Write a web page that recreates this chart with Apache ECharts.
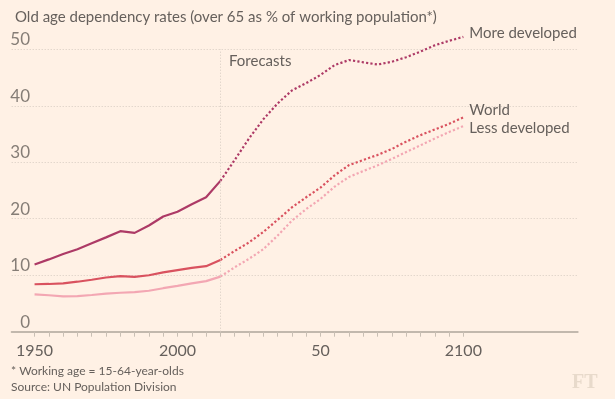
<!DOCTYPE html>
<html>
<head>
<meta charset="utf-8">
<script src="https://cdn.jsdelivr.net/npm/echarts@6/dist/echarts.min.js"></script>
<style>
html,body{margin:0;padding:0;background:#fff1e5;}
#c{width:615px;height:399px;}
</style>
</head>
<body>
<div id="c"></div>
<script>
// Data
const histYears = [1950,1955,1960,1965,1970,1975,1980,1985,1990,1995,2000,2005,2010,2015];
const foreYears = [2015,2020,2025,2030,2035,2040,2045,2050,2055,2060,2065,2070,2075,2080,2085,2090,2095,2100];

const moreHist = [11.9,12.8,13.75,14.6,15.65,16.7,17.8,17.5,18.8,20.4,21.25,22.55,23.8,26.7];
const moreFore = [26.7,30.4,34.2,37.6,40.4,42.7,44.0,45.45,47.2,48.1,47.7,47.3,47.8,48.6,49.6,50.7,51.5,52.2];

const worldHist = [8.4,8.45,8.55,8.85,9.2,9.6,9.85,9.7,10.0,10.5,10.9,11.3,11.6,12.7];
const worldFore = [12.7,14.3,15.8,17.65,19.8,22.0,23.8,25.5,27.7,29.5,30.4,31.3,32.35,33.65,34.8,35.8,36.8,37.95];

const lessHist = [6.6,6.45,6.25,6.3,6.5,6.75,6.9,7.0,7.25,7.7,8.1,8.55,8.95,9.75];
const lessFore = [9.75,11.4,12.9,14.6,17.0,19.65,21.7,23.5,25.7,27.4,28.45,29.45,30.6,31.8,33.0,34.2,35.35,36.4];

const xLabelValues = [1950,2000,2050,2100];
const xLabelTexts = {1950:'1950',2000:'2000',2050:'50',2100:'2100'};
const yTicks = [0,10,20,30,40,50];
const forecastYear = 2015;

const seriesNames = ['More developed','World','Less developed'];

const tickValues = [];
for (let y = 1950; y <= 2100; y += 5) tickValues.push(y);

const zip = (xs, ys) => xs.map((x, i) => [x, ys[i]]);

const FONT = 'Lato';
const colors = ['#ad3a66','#d9525f','#f3a7b3'];
const labelOffsets = [[0,-4],[0,-7],[0,2]];

function mk(name, hist, fore, idx) {
  return [
    {
      type:'line', name:name, data:zip(histYears, hist), showSymbol:false, symbol:'none', clip:false,
      lineStyle:{color:colors[idx], width:2.2}, animation:false
    },
    {
      type:'line', name:name, data:zip(foreYears, fore), showSymbol:false, symbol:'none', clip:false,
      lineStyle:{color:colors[idx], width:2.2, type:'dotted'}, animation:false,
      endLabel:{show:true, formatter:name, color:'#66605c', fontFamily:FONT, fontSize:15,
        distance:6, offset:labelOffsets[idx]}
    }
  ];
}

const chart = echarts.init(document.getElementById('c'), null, {renderer:'canvas'});
const series = [].concat(
  mk(seriesNames[2], lessHist, lessFore, 2),
  mk(seriesNames[1], worldHist, worldFore, 1),
  mk(seriesNames[0], moreHist, moreFore, 0)
);
series[0].markLine = {
  silent:true, symbol:'none', animation:false,
  label:{show:false},
  lineStyle:{color:'#d6cbc0', type:[1,2], width:1},
  data:[{xAxis:forecastYear}]
};

chart.setOption({
  backgroundColor:'#fff1e5',
  animation:false,
  grid:{left:11.7, right:37.3, top:49.3, bottom:67.3, containLabel:false},
  title:{
    text:'Old age dependency rates (over 65 as % of working population*)',
    left:10, top:5,
    textStyle:{color:'#66605c', fontFamily:FONT, fontSize:15, fontWeight:'normal'}
  },
  xAxis:{
    type:'value', min:1942, max:2140,
    axisLine:{show:true, lineStyle:{color:'#c2b8ad', width:2}},
    axisTick:{show:true, customValues:tickValues, length:5, lineStyle:{color:'#c9bfb4', width:1}},
    axisLabel:{customValues:xLabelValues, formatter:v=>xLabelTexts[v], color:'#66605c',
      fontFamily:FONT, fontSize:16, margin:11},
    splitLine:{show:false}
  },
  yAxis:{
    type:'value', min:0, max:50, interval:10,
    axisLine:{show:false}, axisTick:{show:false},
    axisLabel:{color:'#857d76', fontFamily:FONT, fontSize:17, margin:-18.3,
      verticalAlign:'bottom', padding:[0,0,1,0]},
    splitLine:{show:true, lineStyle:{color:'#d6cbc0', type:[1,2], width:1}}
  },
  graphic:[
    {type:'text', left:229, top:54, style:{text:'Forecasts', fill:'#66605c', font:'15px '+FONT}},
    {type:'text', left:11, top:365, style:{text:'* Working age = 15-64-year-olds', fill:'#66605c', font:'12px '+FONT}},
    {type:'text', left:11, top:381, style:{text:'Source: UN Population Division', fill:'#66605c', font:'12px '+FONT}},
    {type:'text', left:572, top:373, style:{text:'FT', fill:'#e8dacb', font:'bold 20px "Liberation Serif"'}}
  ],
  series:series
});
</script>
</body>
</html>
